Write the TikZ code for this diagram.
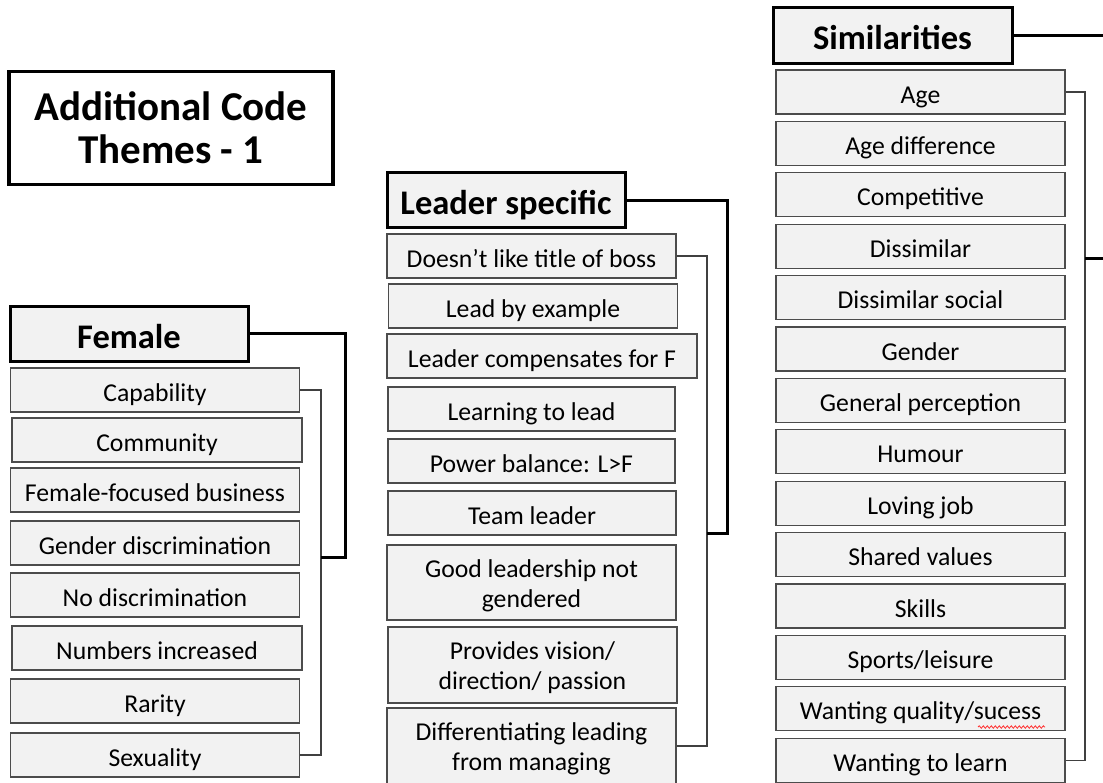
\documentclass[tikz,border=0pt]{standalone}
\usepackage{fontspec}
\setmainfont{Carlito}
\usepackage{tikz}
\usetikzlibrary{calc,positioning,decorations.pathmorphing}

\tikzset{
  item/.style={draw=black!70, fill=black!5, line width=1.3pt, inner sep=0pt,
    minimum width=289, minimum height=44, align=center,
    text height=23pt, text depth=1pt,
    font=\fontsize{25.7}{30}\selectfont},
  twoline/.style={item, text height=51pt, text depth=2pt},
  head/.style={draw=black, fill=black!5, line width=3pt, inner sep=0pt,
    minimum width=238, minimum height=55, text height=31pt, text depth=2pt,
    font=\bfseries\fontsize{34.5}{38}\selectfont},
  thinlink/.style={draw=black!75, line width=1.3pt},
  thicklink/.style={draw=black, line width=3pt}
}

\begin{document}
\begin{tikzpicture}[x=1pt,y=-1pt]
\useasboundingbox (0,0) rectangle (1103,782);
\clip (0,0) rectangle (1103,782);

\node[draw=black, line width=3.5pt, fill=white, inner sep=0pt, minimum width=324,
  minimum height=113, align=center, font=\bfseries\fontsize{41}{43}\selectfont]
  (title) at (171,128) {Additional Code\\Themes - 1};

% Female
\node[head] (female) at (129,333.5) {Female};
\node[item] (cap) at (155,390) {Capability};
\node[item, minimum width=290] (com) at (157,440) {Community};
\node[item] (ffb) at (155,490) {Female-focused business};
\node[item] (gd) at (155,543) {Gender discrimination};
\node[item] (nd) at (155,595) {No discrimination};
\node[item, minimum width=290] (ni) at (157,648) {Numbers increased};
\node[item] (rar) at (155,701) {Rarity};
\node[item] (sex) at (155,755) {Sexuality};
\coordinate (fj) at (321,557);
\draw[thinlink] (cap.east) -| (321,390) |- (sex.east);
\draw[thicklink] (female.east) -| ($(fj)+(24,0)$) -- (fj);

% Leader specific
\node[head] (leader) at (506,200) {Leader specific};
\node[item] (boss) at (531.5,256) {Doesn’t like title of boss};
\node[item] (lbe) at (533,306) {Lead by example};
\node[item, minimum width=310] (lcf) at (542,356) {Leader compensates for F};
\node[item, minimum width=287] (ltl) at (531.5,409) {Learning to lead};
\node[item, minimum width=287] (pb) at (531.5,461) {Power balance: L>F};
\node[item, minimum width=288] (tl) at (532,513) {Team leader};
\node[twoline, minimum height=75] (glng) at (531.5,582.5) {Good leadership not\\gendered};
\node[twoline, minimum height=76] (pvd) at (532.5,665) {Provides vision/\\direction/ passion};
\node[twoline, minimum height=76] (dlm) at (531.5,746) {Differentiating leading\\from managing};
\coordinate (lj) at (707,533);
\draw[thinlink] (boss.east) -| (707,256) |- (dlm.east);
\draw[thicklink] (leader.east) -| ($(lj)+(20,0)$) -- (lj);

% Similarities
\node[head, minimum width=239, minimum height=56] (sim) at (892.5,35) {Similarities};
\foreach \txt [count=\i from 0] in {Age, Age difference, Competitive, Dissimilar,
    Dissimilar social, Gender, General perception, Humour, Loving job,
    Shared values, Skills, Sports/leisure, Wanting quality/sucess, Wanting to learn}
  \node[item] (s\i) at (920.5,{92+51.4*\i}) {\txt};
\draw[red!80, line width=0.8pt, decorate,
  decoration={snake, amplitude=1.2pt, segment length=4pt}] (978,727) -- (1045,727);
\coordinate (sj) at (1085,258);
\draw[thinlink] (s0.east) -| (sj) |- (s13.east);
\draw[thicklink] (sim.east) -| (1120,258) -- (sj);
\end{tikzpicture}
\end{document}
